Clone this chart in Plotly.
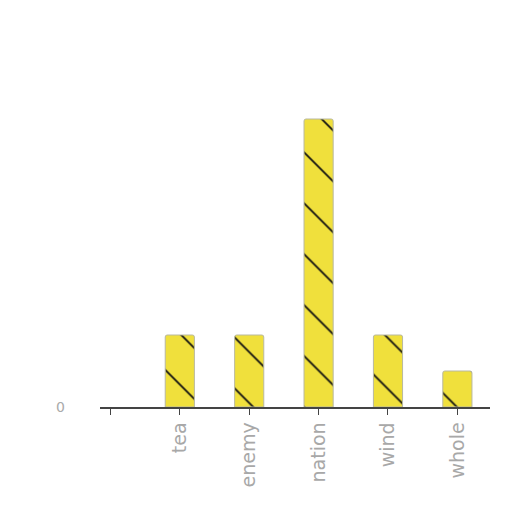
import plotly.graph_objects as go

# Categories and values (first tick is blank)
categories = ["", "tea", "enemy", "nation", "wind", "whole"]
values = [0, 2, 2, 8, 2, 1]
y_ticks = [0]

positions = list(range(len(categories)))

fig = go.Figure(
    go.Bar(
        x=positions[1:],
        y=values[1:],
        width=0.42,
        marker=dict(
            color="#f0e03c",
            line=dict(color="#b8b8a0", width=1),
            cornerradius=2,
            pattern=dict(shape="\\", fgcolor="#111111", fgopacity=1,
                         size=36, solidity=0.05),
        ),
    )
)

# page body has an 8px margin, so margins are trimmed by 8
fig.update_layout(
    width=512,
    height=512,
    margin=dict(l=92, r=30, t=93, b=113),
    plot_bgcolor="white",
    paper_bgcolor="white",
    showlegend=False,
    font=dict(family="DejaVu Sans", size=14, color="#aaaaaa"),
)

fig.update_xaxes(
    range=[-0.15, 5.47],
    tickmode="array",
    tickvals=positions,
    ticktext=categories,
    tickangle=-90,
    tickfont=dict(size=19, color="#a8a8a8"),
    showline=True,
    linecolor="#444444",
    linewidth=1.5,
    ticks="outside",
    ticklen=6,
    tickcolor="#444444",
    showgrid=False,
    zeroline=False,
)

fig.update_yaxes(
    range=[0, 8.5],
    tickmode="array",
    tickvals=y_ticks,
    showgrid=False,
    zeroline=False,
    showline=False,
    ticklabelstandoff=34,
)

fig.write_html("out.html")
